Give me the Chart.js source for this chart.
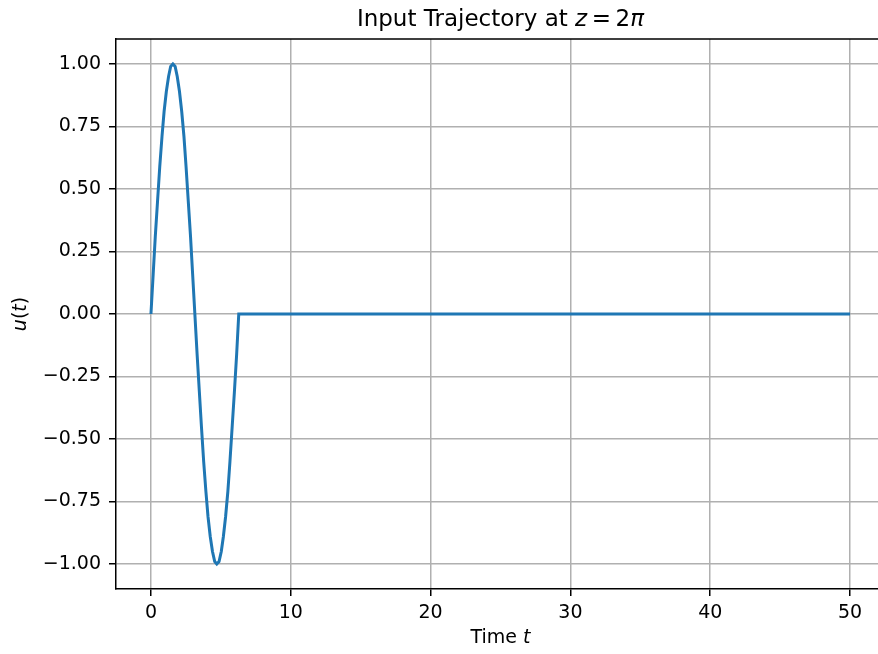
<!DOCTYPE html>
<html>
<head>
<meta charset="utf-8">
<script src="https://cdn.jsdelivr.net/npm/chart.js@4.4.1/dist/chart.umd.min.js"></script>
<style>
  html, body { margin: 0; padding: 0; overflow: hidden; background: #fff; }
  #wrap { width: 887px; height: 654px; }
</style>
</head>
<body>
<div id="wrap"><canvas id="chart" width="887" height="654"></canvas></div>
<script>
// Valores
const tiempos = [0, 0.16, 0.31, 0.47, 0.63, 0.79, 0.94, 1.1, 1.26, 1.41, 1.57, 1.73, 1.88, 2.04, 2.2, 2.36,
  2.51, 2.67, 2.83, 2.98, 3.14, 3.3, 3.46, 3.61, 3.77, 3.93, 4.08, 4.24, 4.4, 4.56, 4.71, 4.87, 5.03, 5.18,
  5.34, 5.5, 5.65, 5.81, 5.97, 6.13, 6.28, 50];
const entrada = [0, 0.16, 0.31, 0.45, 0.59, 0.71, 0.81, 0.89, 0.95, 0.99, 1.0, 0.99, 0.95, 0.89, 0.81, 0.71,
  0.59, 0.45, 0.31, 0.16, 0, -0.16, -0.31, -0.45, -0.59, -0.71, -0.81, -0.89, -0.95, -0.99, -1.0, -0.99, -0.95, -0.89,
  -0.81, -0.71, -0.59, -0.45, -0.31, -0.16, 0, 0];
const ticksX = [0, 10, 20, 30, 40, 50];
const ticksY = [-1, -0.75, -0.5, -0.25, 0, 0.25, 0.5, 0.75, 1];

const FUENTE = 'DejaVu Sans';
Chart.defaults.font.family = FUENTE;
Chart.defaults.color = '#000';

// Dibuja texto con trozos en cursiva (como mathtext)
function textoRico(ctx, partes, x, y, size, rot) {
  ctx.save();
  ctx.translate(x, y);
  if (rot) ctx.rotate(rot);
  ctx.textBaseline = 'middle';
  ctx.fillStyle = '#000';
  let total = 0;
  partes.forEach(p => {
    ctx.font = (p.it ? 'italic ' : '') + size + 'px ' + FUENTE;
    p.w = ctx.measureText(p.t).width;
    total += p.w;
  });
  let cx = -total / 2;
  partes.forEach(p => {
    ctx.font = (p.it ? 'italic ' : '') + size + 'px ' + FUENTE;
    ctx.textAlign = 'left';
    ctx.fillText(p.t, cx, 0);
    cx += p.w;
  });
  ctx.restore();
}

const decoracion = {
  id: 'decoracion',
  afterDraw(chart) {
    const { ctx, chartArea: a } = chart;
    // marco superior y derecho
    ctx.save();
    ctx.strokeStyle = '#000';
    ctx.lineWidth = 1.5;
    ctx.beginPath();
    ctx.moveTo(a.left, a.top);
    ctx.lineTo(a.right, a.top);
    ctx.lineTo(a.right, a.bottom);
    ctx.stroke();
    ctx.restore();

    const cx = (a.left + a.right) / 2;
    textoRico(ctx, [
      { t: 'Input Trajectory at ' }, { t: 'z', it: true }, { t: '\u2009=\u20092' }, { t: 'π', it: true }
    ], cx, 20, 23);
    textoRico(ctx, [{ t: 'Time ' }, { t: 't', it: true }], cx, 638, 19);
    textoRico(ctx, [
      { t: 'u', it: true }, { t: '(' }, { t: 't', it: true }, { t: ')' }
    ], 21, (a.top + a.bottom) / 2, 19, -Math.PI / 2);
  }
};

const rejilla = {
  color: '#b0b0b0',
  lineWidth: 1.5,
  tickLength: 7,
  tickColor: '#000',
  tickWidth: 1.5
};

new Chart(document.getElementById('chart'), {
  type: 'line',
  data: {
    datasets: [{
      data: tiempos.map((t, i) => ({ x: t, y: entrada[i] })),
      borderColor: '#1f77b4',
      borderWidth: 3,
      pointRadius: 0,
      tension: 0,
      fill: false
    }]
  },
  options: {
    responsive: false,
    animation: false,
    layout: { padding: { top: 39, right: 2, left: 0, bottom: 0 } },
    plugins: { legend: { display: false }, tooltip: { enabled: false } },
    scales: {
      x: {
        type: 'linear',
        min: -2.5,
        max: 52.5,
        afterBuildTicks: s => { s.ticks = ticksX.map(v => ({ value: v })); },
        afterFit: s => { s.height = 65; },
        grid: rejilla,
        border: { color: '#000', width: 1.5 },
        ticks: { font: { size: 19 }, padding: 6, maxRotation: 0, color: '#000' }
      },
      y: {
        type: 'linear',
        min: -1.1,
        max: 1.1,
        afterBuildTicks: s => { s.ticks = ticksY.map(v => ({ value: v })); },
        afterFit: s => { s.width = 116; },
        grid: rejilla,
        border: { color: '#000', width: 1.5 },
        ticks: {
          font: { size: 19 },
          padding: 8,
          color: '#000',
          callback: v => (v < 0 ? '\u2212' : '') + Math.abs(v).toFixed(2)
        }
      }
    }
  },
  plugins: [decoracion]
});
</script>
</body>
</html>
